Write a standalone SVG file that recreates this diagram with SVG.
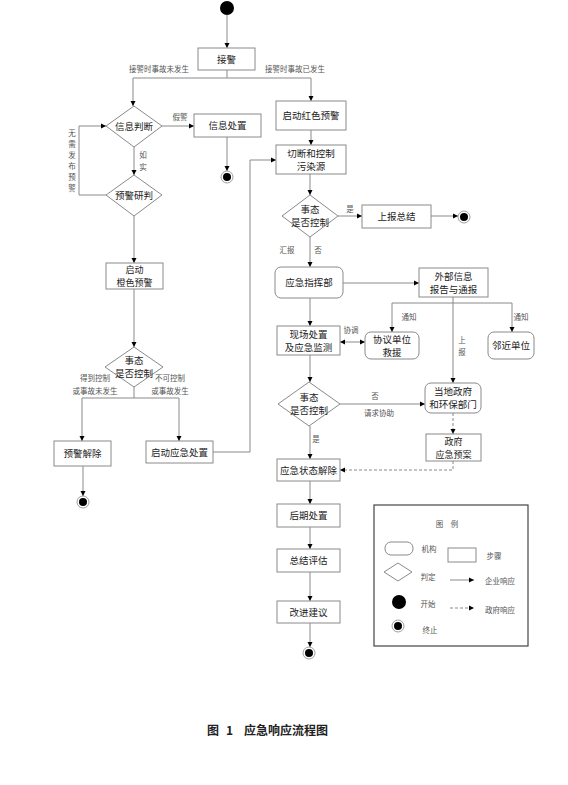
<svg xmlns="http://www.w3.org/2000/svg" width="568" height="785" viewBox="0 0 568 785">
<style>
.n{fill:#fff;stroke:#8a8a8a;stroke-width:1}
.t{font-family:"Noto Sans CJK SC","Liberation Serif",serif;font-size:9.5px;fill:#222;text-anchor:middle}
.s{font-size:9px}
.l{font-family:"Noto Sans CJK SC","Liberation Serif",serif;font-size:7.5px;fill:#555;text-anchor:middle}
.c{fill:none;stroke:#8a8a8a;stroke-width:1}
.d{fill:none;stroke:#8a8a8a;stroke-width:1;stroke-dasharray:3,2}
.a{marker-end:url(#ah)}
.cap{font-family:"Noto Sans CJK SC",sans-serif;font-size:12px;font-weight:bold;fill:#222}
</style>
<defs>
<marker id="ah" markerWidth="6" markerHeight="6" refX="5" refY="3" orient="auto" markerUnits="userSpaceOnUse">
<path d="M0,0.5 L5,3 L0,5.5 Z" fill="#000"/>
</marker>
<marker id="as" markerWidth="6" markerHeight="6" refX="0" refY="3" orient="auto" markerUnits="userSpaceOnUse">
<path d="M5,0.5 L0,3 L5,5.5 Z" fill="#000"/>
</marker>
</defs>
<rect width="568" height="785" fill="#fff"/>
<g id="connectors">
<path class="c a" d="M227,15 V48"/>
<path class="c" d="M227,70 V78 M133,78 H311"/>
<path class="c a" d="M133,78 V106"/>
<path class="c a" d="M311,78 V101"/>
<path class="c a" d="M162,126 H194"/>
<path class="c a" d="M227,137 V171"/>
<path class="c a" d="M134,147 V175"/>
<path class="c a" d="M106,195 H79 V126 H106"/>
<path class="c a" d="M134,216 V263"/>
<path class="c a" d="M134,289 V347"/>
<path class="c" d="M134,387 V398 M82,398 H179"/>
<path class="c a" d="M82,398 V441"/>
<path class="c a" d="M179,398 V441"/>
<path class="c a" d="M83,466 V496"/>
<path class="c a" d="M213,452 H250 V160 H276"/>
<path class="c a" d="M311,130 V145"/>
<path class="c a" d="M310,174 V195"/>
<path class="c a" d="M338,216 H362"/>
<path class="c a" d="M431,216 H458"/>
<path class="c a" d="M310,237 V267"/>
<path class="c a" d="M343,283 H419"/>
<path class="c a" d="M453,297 V383"/>
<path class="c" d="M392,303 H512"/>
<path class="c a" d="M392,303 V332"/>
<path class="c a" d="M512,303 V332"/>
<path class="c a" d="M310,298 V326"/>
<path class="c a" d="M340,342 H365" marker-start="url(#as)"/>
<path class="c a" d="M310,355 V382"/>
<path class="c a" d="M340,404 H425"/>
<path class="d a" d="M453,413 V434"/>
<path class="d a" d="M453,461 V470 H340"/>
<path class="c a" d="M310,426 V459"/>
<path class="c a" d="M310,481 V504"/>
<path class="c a" d="M310,527 V549"/>
<path class="c a" d="M310,572 V601"/>
<path class="c a" d="M310,623 V647"/>
<text class="l" x="159" y="72">接警时事故未发生</text>
<text class="l" x="295" y="72">接警时事故已发生</text>
<text class="l" x="180" y="120">假警</text>
<text class="l" x="143" y="158">如</text>
<text class="l" x="143" y="170">实</text>
<text class="l" x="72" y="136">无</text>
<text class="l" x="72" y="147">需</text>
<text class="l" x="72" y="158">发</text>
<text class="l" x="72" y="169">布</text>
<text class="l" x="72" y="180">预</text>
<text class="l" x="72" y="191">警</text>
<text class="l" x="95" y="381">得到控制</text>
<text class="l" x="95" y="394">或事故未发生</text>
<text class="l" x="170" y="381">不可控制</text>
<text class="l" x="170" y="394">或事故发生</text>
<text class="l" x="350" y="212">是</text>
<text class="l" x="287" y="253">汇报</text>
<text class="l" x="318" y="253">否</text>
<text class="l" x="409" y="320">通知</text>
<text class="l" x="521" y="320">通知</text>
<text class="l" x="462" y="343">上</text>
<text class="l" x="462" y="355">报</text>
<text class="l" x="351" y="333">协调</text>
<text class="l" x="375" y="399">否</text>
<text class="l" x="379" y="416">请求协助</text>
<text class="l" x="316" y="442">是</text>
</g>
<g id="start"><circle cx="227" cy="8" r="7" fill="#000"/></g>
<g id="jiejing"><rect class="n" x="198" y="48" width="57" height="22"/><text class="t" x="226.5" y="62.5">接警</text></g>
<g id="xinxipanduan"><path class="n" d="M134,106 L162,126 L134,147 L106,126 Z"/><text class="t" x="134" y="130">信息判断</text></g>
<g id="xinxichuzhi"><rect class="n" x="194" y="114" width="67" height="23"/><text class="t" x="227.5" y="129">信息处置</text></g>
<g id="end1"><circle cx="227" cy="177" r="6" fill="#fff" stroke="#888" stroke-width="0.8"/><circle cx="227" cy="177" r="4" fill="#000"/></g>
<g id="yujingyanpan"><path class="n" d="M134,175 L162,195 L134,216 L106,195 Z"/><text class="t" x="134" y="199">预警研判</text></g>
<g id="chengse"><rect class="n" x="106" y="263" width="57" height="26"/><text class="t s" x="134.5" y="273">启动</text><text class="t s" x="134.5" y="286">橙色预警</text></g>
<g id="shitai1"><path class="n" d="M134,347 L163,367 L134,387 L105,367 Z"/><text class="t" x="134" y="364">事态</text><text class="t" x="134" y="377">是否控制</text></g>
<g id="yujingjiechu"><rect class="n" x="54" y="441" width="57" height="25"/><text class="t" x="82.5" y="457">预警解除</text></g>
<g id="qidongyingji"><rect class="n" x="146" y="441" width="67" height="22"/><text class="t" x="179.5" y="455.5">启动应急处置</text></g>
<g id="end2"><circle cx="83" cy="502" r="6" fill="#fff" stroke="#888" stroke-width="0.8"/><circle cx="83" cy="502" r="4" fill="#000"/></g>
<g id="hongse"><rect class="n" x="276" y="101" width="70" height="29"/><text class="t" x="311" y="119">启动红色预警</text></g>
<g id="qieduan"><rect class="n" x="276" y="145" width="70" height="29"/><text class="t" x="311" y="157">切断和控制</text><text class="t" x="311" y="170">污染源</text></g>
<g id="shitai2"><path class="n" d="M310,195 L338,216 L310,237 L282,216 Z"/><text class="t" x="310" y="213">事态</text><text class="t" x="310" y="226">是否控制</text></g>
<g id="shangbaozongjie"><rect class="n" x="362" y="205" width="69" height="23"/><text class="t" x="396.5" y="220">上报总结</text></g>
<g id="end3"><circle cx="464" cy="217" r="6" fill="#fff" stroke="#888" stroke-width="0.8"/><circle cx="464" cy="217" r="4" fill="#000"/></g>
<g id="zhihuibu"><rect class="n" x="275" y="267" width="68" height="31" rx="6"/><text class="t" x="309" y="286">应急指挥部</text></g>
<g id="waibuxinxi"><rect class="n" x="419" y="268" width="69" height="29"/><text class="t" x="453.5" y="280">外部信息</text><text class="t" x="453.5" y="293">报告与通报</text></g>
<g id="xieyi"><rect class="n" x="365" y="332" width="54" height="27" rx="6"/><text class="t" x="392" y="343">协议单位</text><text class="t" x="392" y="356">救援</text></g>
<g id="linjin"><rect class="n" x="488" y="332" width="46" height="27" rx="6"/><text class="t" x="511" y="349">邻近单位</text></g>
<g id="xianchang"><rect class="n" x="277" y="326" width="63" height="29"/><text class="t" x="308.5" y="338">现场处置</text><text class="t" x="308.5" y="351">及应急监测</text></g>
<g id="shitai3"><path class="n" d="M309,382 L340,404 L309,426 L278,404 Z"/><text class="t" x="309" y="401">事态</text><text class="t" x="309" y="414">是否控制</text></g>
<g id="dangdi"><rect class="n" x="425" y="383" width="56" height="30" rx="6"/><text class="t" x="453" y="395">当地政府</text><text class="t" x="453" y="408">和环保部门</text></g>
<g id="zhengfu"><rect class="n" x="426" y="434" width="55" height="27"/><text class="t s" x="453.5" y="444.5">政府</text><text class="t s" x="453.5" y="457.5">应急预案</text></g>
<g id="jiechu"><rect class="n" x="277" y="459" width="63" height="22"/><text class="t" x="308.5" y="473.5">应急状态解除</text></g>
<g id="houqi"><rect class="n" x="277" y="504" width="63" height="23"/><text class="t" x="308.5" y="519">后期处置</text></g>
<g id="zongjie"><rect class="n" x="277" y="549" width="63" height="23"/><text class="t" x="308.5" y="564">总结评估</text></g>
<g id="gaijin"><rect class="n" x="277" y="601" width="63" height="22"/><text class="t" x="308.5" y="615.5">改进建议</text></g>
<g id="end4"><circle cx="309" cy="653" r="6" fill="#fff" stroke="#888" stroke-width="0.8"/><circle cx="309" cy="653" r="4" fill="#000"/></g>
<g id="legend">
<rect x="374" y="505" width="154" height="141" fill="#fff" stroke="#444" stroke-width="1.2"/>
<text class="l" x="447" y="527">图　例</text>
<rect class="n" x="385" y="542" width="28" height="13" rx="6"/>
<text class="l" x="429" y="552">机构</text>
<rect class="n" x="448" y="548" width="28" height="14"/>
<text class="l" x="494" y="559">步骤</text>
<path class="n" d="M398,563 L412,572 L398,581 L384,572 Z"/>
<text class="l" x="428" y="580">判定</text>
<path class="c a" d="M450,580 H474"/>
<text class="l" x="500" y="584">企业响应</text>
<circle cx="399" cy="602" r="7" fill="#000"/>
<text class="l" x="428" y="607">开始</text>
<path class="d a" d="M450,608 H474"/>
<text class="l" x="500" y="613">政府响应</text>
<circle cx="398" cy="626" r="6" fill="#fff" stroke="#888" stroke-width="0.8"/><circle cx="398" cy="626" r="4" fill="#000"/>
<text class="l" x="430" y="633">终止</text>
</g>
<g id="caption">
<text class="cap" x="207" y="735">图</text>
<text class="cap" x="226" y="735">1</text>
<text class="cap" x="244" y="735">应急响应流程图</text>
</g>
</svg>
